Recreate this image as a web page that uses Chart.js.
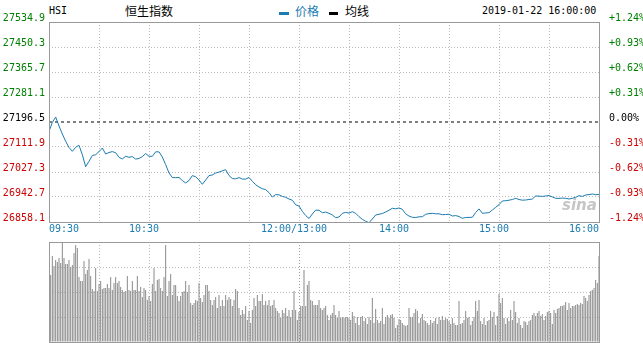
<!DOCTYPE html>
<html>
<head>
<meta charset="utf-8">
<script src="https://cdn.jsdelivr.net/npm/chart.js@4.4.1/dist/chart.umd.min.js"></script>
<style>
  body { margin: 0; background: #fff; }
  #wrap { position: relative; width: 643px; height: 343px; overflow: hidden; background: #fff; }
  canvas { position: absolute; left: 0; }
  .t { position: absolute; white-space: nowrap; line-height: 12px; color: #000; }
  .mono { font-family: 'DejaVu Sans Mono', monospace; font-size: 10px; }
  .cjk { font-family: 'Noto Sans CJK SC', sans-serif; font-size: 12px; }
  .sw { position: absolute; height: 3px; }
  .logo { position: absolute; left: 562px; top: 196px; font: italic bold 15px 'DejaVu Sans', sans-serif; color: rgba(150,150,150,0.55); z-index: 2; }
</style>
</head>
<body>
<div id="wrap">
  <div class="t mono" style="left:49px;top:5px">HSI</div>
  <div class="t cjk" style="left:125px;top:5px">恒生指数</div>
  <div class="sw" style="left:279px;top:12px;width:10px;background:#1c7bb0"></div>
  <div class="t cjk" style="left:295px;top:5px;color:#1c7bb0">价格</div>
  <div class="sw" style="left:329px;top:12px;width:9px;background:#000"></div>
  <div class="t cjk" style="left:345px;top:5px">均线</div>
  <div class="t mono" style="left:482px;top:5px">2019-01-22 16:00:00</div>
  <canvas id="price" width="643" height="240" style="top:0"></canvas>
  <canvas id="vol" width="643" height="103" style="top:240px"></canvas>
  <div class="logo">sina</div>
</div>
<script>
const prevClose = 27196.5;
const priceTicks = [26858.1, 26942.7, 27027.3, 27111.9, 27196.5, 27281.1, 27365.7, 27450.3, 27534.9];
const pctLabels = ['-1.24%', '-0.93%', '-0.62%', '-0.31%', '0.00%', '+0.31%', '+0.62%', '+0.93%', '+1.24%'];
const timeTickMinutes = [0, 60, 150, 210, 270, 330];
const timeTickLabels = ['09:30', '10:30', '12:00/13:00', '14:00', '15:00', '16:00'];

// index price, one reading every 2 minutes from 09:30 (lunch break removed)
const prices = [
  27165.0, 27194.8, 27213.4, 27183.0, 27155.9, 27131.2, 27110.2, 27097.3, 27110.9, 27117.7,
  27085.8, 27045.2, 27063.5, 27083.1, 27085.8, 27096.3, 27108.5, 27088.2, 27093.3, 27096.3,
  27092.6, 27077.0, 27071.3, 27080.4, 27077.0, 27079.4, 27071.0, 27073.0, 27079.4, 27089.6,
  27080.4, 27080.4, 27095.7, 27095.3, 27078.1, 27052.0, 27023.9, 27008.7, 27008.0, 27008.7,
  26998.5, 26990.1, 26998.5, 27015.1, 27011.1, 27000.2, 26985.7, 27000.2, 27015.1, 27017.2,
  27023.9, 27027.0, 27031.4, 27035.1, 27015.5, 27005.3, 27004.0, 27008.4, 27003.3, 27003.3,
  27008.7, 26995.8, 26984.3, 26976.5, 26970.8, 26967.7, 26957.6, 26942.7, 26950.8, 26950.1,
  26944.7, 26941.7, 26935.9, 26931.9, 26916.3, 26912.2, 26894.0, 26880.1, 26869.9, 26885.2,
  26898.4, 26897.7, 26889.6, 26891.6, 26887.5, 26881.8, 26873.0, 26875.0, 26887.5, 26890.6,
  26888.2, 26893.0, 26887.5, 26876.0, 26867.2, 26860.5, 26855.7, 26868.3, 26881.8, 26884.2,
  26886.9, 26891.9, 26898.0, 26904.5, 26902.8, 26905.5, 26901.1, 26885.9, 26878.1, 26874.0,
  26873.3, 26875.7, 26876.0, 26884.2, 26886.5, 26887.5, 26885.9, 26885.9, 26882.8, 26883.5,
  26884.2, 26878.4, 26879.8, 26876.7, 26870.6, 26873.3, 26873.7, 26874.0, 26890.3, 26902.4,
  26887.5, 26888.6, 26889.6, 26898.7, 26907.8, 26916.6, 26929.2, 26930.2, 26931.9, 26934.2,
  26938.3, 26934.2, 26931.9, 26932.6, 26934.2, 26935.9, 26946.1, 26945.7, 26944.7, 26946.1,
  26947.8, 26942.7, 26938.3, 26938.0, 26939.0, 26938.3, 26935.9, 26938.3, 26941.7, 26947.1,
  26944.7, 26949.5, 26950.8, 26952.9, 26950.5, 26951.8
];

// volume per minute, relative units (no scale shown)
const volumeAM = [
  67, 86, 76, 82, 80, 84, 79, 99, 84, 78, 78, 82, 75, 77, 89, 97, 94, 65, 61, 61,
  81, 68, 72, 83, 66, 53, 51, 74, 51, 58, 61, 53, 54, 54, 58, 54, 65, 52, 59, 65,
  59, 61, 55, 52, 50, 51, 66, 52, 51, 61, 52, 52, 66, 51, 55, 45, 54, 52, 42, 46,
  41, 58, 74, 51, 62, 63, 54, 51, 65, 97, 46, 61, 68, 47, 57, 57, 46, 41, 46, 50,
  51, 61, 50, 57, 39, 37, 39, 42, 41, 59, 44, 40, 47, 57, 57, 51, 42, 37, 42, 45,
  34, 47, 36, 42, 36, 47, 42, 45, 43, 36, 42, 53, 51, 34, 27, 32, 28, 36, 22, 31,
  19, 32, 44, 36, 47, 41, 41, 48, 37, 41, 37, 42, 36, 37, 42, 34, 31, 29, 24, 32,
  29, 34, 26, 32, 25, 32, 51, 32, 22, 30
];
const volumePM = [
  36, 36, 72, 36, 57, 61, 42, 41, 37, 37, 37, 42, 34,
  32, 34, 36, 27, 22, 27, 29, 37, 27, 24, 31, 24, 25, 24, 25, 25, 24, 22, 30, 26,
  19, 25, 17, 25, 26, 21, 24, 18, 25, 22, 44, 19, 33, 22, 19, 21, 34, 18, 25, 27,
  24, 27, 28, 24, 14, 17, 23, 22, 19, 17, 16, 17, 34, 25, 25, 29, 33, 31, 19, 24,
  28, 22, 21, 19, 17, 22, 19, 21, 24, 18, 25, 22, 26, 22, 24, 23, 21, 18, 24, 19,
  17, 17, 41, 18, 19, 22, 31, 24, 25, 17, 21, 25, 41, 31, 42, 21, 18, 24, 17, 21,
  22, 31, 25, 30, 17, 26, 48, 39, 44, 24, 18, 24, 21, 32, 22, 41, 30, 19, 24, 17,
  14, 21, 20, 17, 21, 22, 27, 29, 26, 29, 31, 26, 28, 22, 26, 30, 31, 29, 18, 32,
  29, 33, 34, 36, 36, 37, 40, 32, 39, 34, 36, 36, 37, 38, 37, 39, 38, 46, 44, 41,
  47, 51, 52, 54, 62, 59, 86
];

const BLUE = '#1c7bb0';
const GREEN = '#008000';
const RED = '#cc0000';
const GRID = '#bbbbbb';
const gridMinutes = [0, 30, 60, 90, 120, 150, 180, 210, 240, 270, 300, 330];
const monoFont = { family: 'DejaVu Sans Mono', size: 10 };

const tickColor = v => v > prevClose + 0.01 ? GREEN : (v < prevClose - 0.01 ? RED : '#000');

// solid frame round the plot area
const frame = {
  id: 'frame',
  afterDraw(chart) {
    const { ctx, chartArea: a } = chart;
    ctx.save();
    ctx.strokeStyle = '#999';
    ctx.lineWidth = 1;
    ctx.strokeRect(a.left + 0.5, a.top + 0.5, a.right - a.left, a.bottom - a.top);
    ctx.restore();
  }
};

// time labels under the price panel
const timeLabels = {
  id: 'timeLabels',
  afterDraw(chart) {
    const { ctx } = chart;
    const x = chart.scales.x;
    const last = timeTickMinutes.length - 1;
    ctx.save();
    ctx.font = '10px "DejaVu Sans Mono"';
    ctx.fillStyle = BLUE;
    ctx.textBaseline = 'middle';
    timeTickMinutes.forEach((m, i) => {
      let px = x.getPixelForValue(m);
      ctx.textAlign = i === 0 ? 'left' : (i === last ? 'right' : 'center');
      if (i > 0 && i < last) px -= 5;
      ctx.fillText(timeTickLabels[i], px, chart.chartArea.bottom + 7);
    });
    ctx.restore();
  }
};

const timeAxis = (height, gridColor) => ({
  type: 'linear',
  min: 0,
  max: 330,
  offset: false,
  afterBuildTicks: s => { s.ticks = gridMinutes.map(v => ({ value: v })); },
  afterFit: s => { s.height = height; },
  ticks: { display: false },
  grid: { color: gridColor, drawTicks: false, offset: false },
  border: { display: false, dash: [1, 2] }
});

new Chart(document.getElementById('price'), {
  type: 'line',
  data: {
    datasets: [
      {
        data: prices.map((p, i) => ({ x: i * 2, y: p })),
        borderColor: BLUE,
        borderWidth: 1,
        pointRadius: 0,
        tension: 0
      },
      {
        data: [{ x: 0, y: prevClose }, { x: 330, y: prevClose }],
        borderColor: '#000',
        borderWidth: 1,
        borderDash: [3, 3],
        pointRadius: 0
      }
    ]
  },
  options: {
    responsive: false,
    animation: false,
    devicePixelRatio: 1,
    layout: { padding: { top: 22 } },
    plugins: { legend: { display: false }, tooltip: { enabled: false } },
    scales: {
      x: timeAxis(18, GRID),
      y: {
        position: 'left',
        min: priceTicks[0],
        max: priceTicks[priceTicks.length - 1],
        afterBuildTicks: s => { s.ticks = priceTicks.map(v => ({ value: v })); },
        afterFit: s => { s.width = 49; },
        ticks: {
          autoSkip: false,
          font: monoFont,
          padding: 4,
          labelOffset: -4,
          color: c => tickColor(c.tick.value),
          callback: (v, i) => priceTicks[i].toFixed(1)
        },
        grid: { color: c => Math.abs(c.tick.value - prevClose) < 0.01 ? 'rgba(0,0,0,0)' : GRID, drawTicks: false },
        border: { display: false, dash: [1, 2] }
      },
      yR: {
        position: 'right',
        min: priceTicks[0],
        max: priceTicks[priceTicks.length - 1],
        afterBuildTicks: s => { s.ticks = priceTicks.map(v => ({ value: v })); },
        afterFit: s => { s.width = 44; },
        ticks: {
          autoSkip: false,
          font: monoFont,
          padding: 2,
          labelOffset: -4,
          color: c => tickColor(c.tick.value),
          callback: (v, i) => pctLabels[i]
        },
        grid: { display: false },
        border: { display: false }
      }
    }
  },
  plugins: [frame, timeLabels]
});

new Chart(document.getElementById('vol'), {
  type: 'bar',
  data: {
    datasets: [{
      data: volumeAM.map((v, i) => ({ x: i + 1, y: v }))
        .concat(volumePM.map((v, i) => ({ x: 151 + i, y: v }))),
      backgroundColor: '#8a8a8a',
      borderWidth: 0,
      inflateAmount: 0,
      barThickness: 1
    }]
  },
  options: {
    responsive: false,
    animation: false,
    devicePixelRatio: 1,
    layout: { padding: { top: 2, right: 44 } },
    plugins: { legend: { display: false }, tooltip: { enabled: false } },
    scales: {
      x: timeAxis(1, c => c.tick.value === 150 ? '#999' : GRID),
      y: {
        min: 0,
        max: 100,
        afterBuildTicks: s => { s.ticks = [0, 25, 50, 75, 100].map(v => ({ value: v })); },
        afterFit: s => { s.width = 49; },
        ticks: { display: false },
        grid: { color: GRID, drawTicks: false },
        border: { display: false, dash: [1, 2] }
      }
    }
  },
  plugins: [frame]
});
</script>
</body>
</html>
